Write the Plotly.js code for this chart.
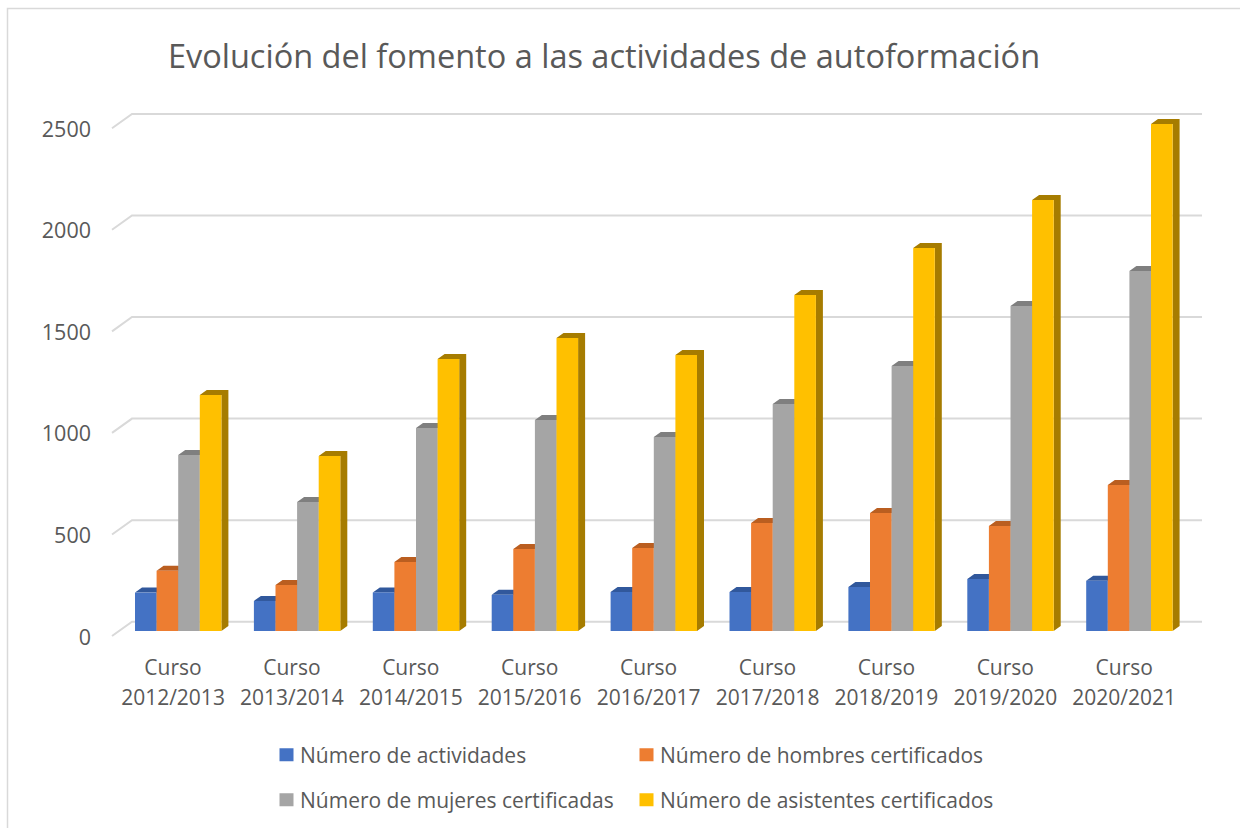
<!DOCTYPE html>
<html><head><meta charset="utf-8">
<script src="https://cdn.plot.ly/plotly-3.0.1.min.js"></script>
<style>html,body{margin:0;padding:0;background:#fff}#c{width:1249px;height:828px}</style>
</head><body><div id="c"></div>
<script>
const categories = ['Curso 2012/2013','Curso 2013/2014','Curso 2014/2015','Curso 2015/2016','Curso 2016/2017','Curso 2017/2018','Curso 2018/2019','Curso 2019/2020','Curso 2020/2021'];
const actividades = [189,148,190,178,192,192,217,256,248];
const hombres = [297,226,340,404,409,532,581,517,719];
const mujeres = [867,635,1000,1039,955,1118,1305,1600,1773];
const asistentes = [1162,862,1339,1443,1359,1654,1886,2122,2496];
const seriesNames = ['Número de actividades','Número de hombres certificados','Número de mujeres certificadas','Número de asistentes certificados'];
const frontColors = ['#4472C4','#ED7D31','#A5A5A5','#FFC000'];
const darkColors = ['#31589C','#BA5E20','#7F7F7F','#A67C00'];
const yTicks = [0,500,1000,1500,2000,2500];
const titleText = 'Evolución del fomento a las actividades de autoformación';

const W=1249,H=828, L=100,R=1210,T=100,B=640;
const catPx=118.9, x0Px=173, y0Px=631, pxPerUnit=0.2031;
const xr=[(L-x0Px)/catPx,(R-x0Px)/catPx];
const yr=[(y0Px-B)/pxPerUnit,(y0Px-T)/pxPerUnit];
const dx=px=>px/catPx, dy=px=>px/pxPerUnit;
const barW=dx(21.6), firstOff=dx(-38);
const depthX=dx(7), depthY=dy(5);
const values=[actividades,hombres,mujeres,asistentes];
const traces=[];

// walls: one gridline per y tick, with the diagonal up from the front edge
const gx=[],gy=[];
yTicks.forEach(v=>{
  gx.push(dx(112-x0Px),dx(132-x0Px),dx(1202-x0Px),null);
  gy.push(v+dy(-5),v+dy(9.3),v+dy(9.3),null);
});
traces.push({type:'scatter',mode:'lines',x:gx,y:gy,xaxis:'x',yaxis:'y',showlegend:false,hoverinfo:'skip',line:{color:'#D9D9D9',width:2}});

// top and side faces of every bar, from the same values
values.forEach((vals,j)=>{
  const tx=[],ty=[];
  vals.forEach((v,i)=>{
    const l=i+firstOff+j*barW, r=l+barW;
    tx.push(l,l+depthX,r+depthX,r,l,null);
    ty.push(v,v+depthY,v+depthY,v,v,null);
    tx.push(r,r+depthX,r+depthX,r,r,null);
    ty.push(0,depthY,v+depthY,v,0,null);
  });
  traces.push({type:'scatter',mode:'lines',x:tx,y:ty,xaxis:'x',yaxis:'y',fill:'toself',fillcolor:darkColors[j],line:{width:0,color:darkColors[j]},showlegend:false,hoverinfo:'skip'});
});

// front faces; each series has its own legend box so it can sit where the reference puts it
const legendIds=['legend','legend2','legend3','legend4'];
values.forEach((vals,j)=>{
  traces.push({type:'bar',name:seriesNames[j],x:categories,y:vals,xaxis:'x2',yaxis:'y2',
    width:barW,offset:firstOff+j*barW,marker:{color:frontColors[j],line:{width:0}},
    legend:legendIds[j],showlegend:true});
});

const tickFont=21;
const tickText=categories.map(c=>c.split(' ').map(s=>`<span style="font-size:${tickFont}px">${s}</span>`).join('<br>'));
const paperX=p=>(p-L)/(R-L), paperY=p=>(B-p)/(B-T);
const legendAt=(px,py)=>({orientation:'v',xanchor:'left',yanchor:'middle',indentation:-8,x:paperX(px),y:paperY(py),
  font:{family:'Open Sans',size:21,color:'#595959'},bgcolor:'rgba(0,0,0,0)',itemclick:false,itemdoubleclick:false});
const layout={
  width:W,height:H,margin:{l:L,r:W-R,t:T,b:H-B,pad:0,autoexpand:false},
  paper_bgcolor:'#fff',plot_bgcolor:'rgba(0,0,0,0)',barmode:'overlay',
  font:{family:'Open Sans',color:'#595959'},
  title:{text:titleText,font:{family:'Open Sans',size:32.5,color:'#595959'},x:604/W,xanchor:'center',y:1-57/H,yanchor:'middle'},
  xaxis:{domain:[0,1],range:xr,type:'linear',visible:false,fixedrange:true},
  yaxis:{domain:[0,1],range:yr,tickmode:'array',tickvals:yTicks,ticktext:yTicks.map(String),showgrid:false,zeroline:false,showline:false,
    ticks:'',tickfont:{family:'Open Sans',size:21.5,color:'#595959'},ticklabelshift:6,ticklabelstandoff:8,fixedrange:true},
  xaxis2:{overlaying:'x',anchor:'y2',side:'bottom',type:'category',categoryorder:'array',categoryarray:categories,range:xr,tickmode:'array',tickvals:categories,ticktext:tickText,
    tickangle:0,showgrid:false,zeroline:false,showline:false,ticks:'',tickfont:{family:'Open Sans',size:23,color:'#595959'},ticklabelstandoff:11,fixedrange:true},
  yaxis2:{overlaying:'y',anchor:'x2',range:yr,visible:false,fixedrange:true},
  legend:legendAt(268,755),
  legend2:legendAt(628,755),
  legend3:legendAt(268,800),
  legend4:legendAt(628,800),
  shapes:[{type:'path',xref:'paper',yref:'paper',layer:'below',
    path:`M ${paperX(7.5)} ${paperY(830)} L ${paperX(7.5)} ${paperY(8.5)} L ${paperX(1240)} ${paperY(8.5)}`,
    line:{color:'#D9D9D9',width:1.5}}]
};
Plotly.newPlot('c',traces,layout,{displayModeBar:false,responsive:false}).then(()=>{
  // the reference's legend keys sit closer to their text than Plotly's fixed key slot
  document.querySelectorAll('.legendpoints').forEach(g=>g.setAttribute('transform','translate(6.5,0)'));
  document.querySelectorAll('.legendpoints path').forEach(p=>p.setAttribute('d','M7,6.5H-7V-6.5H7Z'));
});
</script></body></html>
